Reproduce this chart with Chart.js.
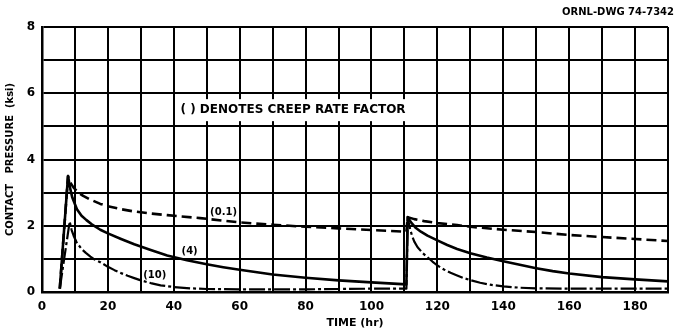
<!DOCTYPE html>
<html>
<head>
<meta charset="utf-8">
<script src="https://cdn.jsdelivr.net/npm/chart.js@4.4.1/dist/chart.umd.min.js"></script>
<style>
  html, body { margin: 0; padding: 0; background: #fff; }
  #wrap { width: 676px; height: 336px; position: relative; }
</style>
</head>
<body>
<div id="wrap"><canvas id="pressureChart"></canvas></div>
<script>
// contact pressure vs time, three creep rate factors
const timeSlow = [5.4, 7.9, 8.6, 9.6, 11, 12.5, 14.7, 17.7, 20, 24, 28, 33, 38, 48, 60, 70, 80, 90, 100, 110.6,
                  111, 113, 116, 120, 126, 130, 140, 150, 160, 170, 180, 190];
const pressSlow = [0.1, 3.5, 3.3, 3.15, 3.0, 2.9, 2.79, 2.66, 2.59, 2.5, 2.43, 2.37, 2.32, 2.23, 2.1, 2.03, 1.97, 1.92, 1.87, 1.82,
                   2.26, 2.2, 2.14, 2.08, 2.02, 1.97, 1.88, 1.81, 1.72, 1.66, 1.6, 1.54];

const timeMid = [5.4, 7.9, 8.5, 9.2, 10.6, 12, 13.5, 15, 17.7, 20, 24, 28, 33, 38, 44, 50, 55, 60, 70, 80, 90, 100, 110.6,
                 111, 112, 113.5, 115, 117, 120, 123, 126, 130, 135, 140, 145, 150, 155, 160, 170, 180, 190];
const pressMid = [0.1, 3.5, 3.15, 2.85, 2.5, 2.3, 2.17, 2.05, 1.88, 1.77, 1.6, 1.44, 1.27, 1.1, 0.96, 0.84, 0.75, 0.67, 0.53, 0.43, 0.35, 0.29, 0.23,
                  2.26, 2.1, 1.93, 1.82, 1.7, 1.56, 1.42, 1.3, 1.17, 1.04, 0.93, 0.82, 0.72, 0.63, 0.56, 0.45, 0.38, 0.32];

const timeFast = [5.4, 8.4, 9, 9.6, 10.5, 12, 13.3, 14.7, 16, 17.7, 20, 22, 24, 26, 28, 30, 33, 36, 40, 45, 50, 60, 80, 100, 110.6,
                  111, 111.6, 112.3, 113, 114, 115.5, 117, 118.5, 120, 122, 124, 126, 128, 130, 133, 136, 140, 145, 150, 160, 170, 180, 190];
const pressFast = [0.1, 2.13, 1.87, 1.7, 1.5, 1.3, 1.18, 1.07, 0.98, 0.9, 0.76, 0.66, 0.57, 0.49, 0.42, 0.35, 0.27, 0.2, 0.15, 0.11, 0.09, 0.08, 0.08, 0.1, 0.1,
                   2.26, 1.95, 1.7, 1.52, 1.35, 1.18, 1.05, 0.92, 0.8, 0.68, 0.58, 0.5, 0.42, 0.36, 0.28, 0.22, 0.17, 0.13, 0.11, 0.1, 0.1, 0.1, 0.1];

const xTicks = [0, 20, 40, 60, 80, 100, 120, 140, 160, 180];
const yTicks = [0, 2, 4, 6, 8];

function toPoints(xs, ys) {
    return xs.map((x, i) => ({ x: x, y: ys[i] }));
}

const LETTER = '"DejaVu Sans", sans-serif';

// captions and curve tags
const notesPlugin = {
    id: 'notes',
    afterDatasetsDraw(chart) {
        const ctx = chart.ctx;
        const xs = chart.scales.x, ys = chart.scales.y;
        ctx.save();
        ctx.fillStyle = '#000';
        ctx.textBaseline = 'middle';
        ctx.textAlign = 'center';

        // boxed note
        const nx = xs.getPixelForValue(76.2), ny = ys.getPixelForValue(5.49);
        ctx.font = 'bold 12px ' + LETTER;
        const w = ctx.measureText('( ) DENOTES CREEP RATE FACTOR').width;
        ctx.fillStyle = '#fff';
        ctx.fillRect(nx - w / 2 - 4, ny - 11, w + 8, 22);
        ctx.fillStyle = '#000';
        ctx.fillText('( ) DENOTES CREEP RATE FACTOR', nx, ny);

        ctx.font = 'bold 10px ' + LETTER;
        ctx.fillText('(0.1)', xs.getPixelForValue(55.1), ys.getPixelForValue(2.39));
        ctx.fillText('(4)', xs.getPixelForValue(44.8), ys.getPixelForValue(1.23));
        ctx.fillText('(10)', xs.getPixelForValue(34.2), ys.getPixelForValue(0.5));

        // drawing number, top right
        ctx.font = 'bold 10px ' + LETTER;
        ctx.textAlign = 'right';
        ctx.fillText('ORNL-DWG 74-7342', 674, 12);
        ctx.restore();
    }
};

new Chart(document.getElementById('pressureChart'), {
    type: 'line',
    data: {
        datasets: [
            {
                label: '(0.1)',
                data: toPoints(timeSlow, pressSlow),
                borderColor: '#000',
                borderWidth: 2.6,
                borderDash: [10, 5],
                borderJoinStyle: 'round',
                pointRadius: 0,
                tension: 0
            },
            {
                label: '(4)',
                data: toPoints(timeMid, pressMid),
                borderColor: '#000',
                borderWidth: 2.6,
                borderJoinStyle: 'round',
                pointRadius: 0,
                tension: 0
            },
            {
                label: '(10)',
                data: toPoints(timeFast, pressFast),
                borderColor: '#000',
                borderWidth: 2.2,
                borderDash: [16, 3, 3, 3],
                borderJoinStyle: 'round',
                pointRadius: 0,
                tension: 0
            }
        ]
    },
    options: {
        responsive: true,
        maintainAspectRatio: false,
        animation: false,
        layout: { padding: { top: 27, right: 6, left: 0, bottom: 0 } },
        plugins: {
            legend: { display: false },
            tooltip: { enabled: false }
        },
        scales: {
            x: {
                type: 'linear',
                min: 0,
                max: 190,
                afterFit: (scale) => { scale.height = 44; },
                grid: { color: '#000', lineWidth: 2, drawTicks: false },
                border: { color: '#000', width: 2.5 },
                ticks: {
                    stepSize: 10,
                    autoSkip: false,
                    maxRotation: 0,
                    padding: 8,
                    color: '#000',
                    font: { family: LETTER, size: 12, weight: 'bold' },
                    callback: (v) => xTicks.includes(v) ? String(v) : ''
                },
                title: {
                    display: true,
                    text: 'TIME (hr)',
                    color: '#000',
                    padding: { top: 2, bottom: 6 },
                    font: { family: LETTER, size: 11, weight: 'bold' }
                }
            },
            y: {
                min: 0,
                max: 8,
                afterFit: (scale) => { scale.width = 42; },
                grid: { color: '#000', lineWidth: 2, drawTicks: false },
                border: { color: '#000', width: 2.5 },
                ticks: {
                    stepSize: 1,
                    autoSkip: false,
                    padding: 7,
                    color: '#000',
                    font: { family: LETTER, size: 12, weight: 'bold' },
                    callback: (v) => yTicks.includes(v) ? String(v) : ''
                },
                title: {
                    display: true,
                    text: 'CONTACT   PRESSURE  (ksi)',
                    color: '#000',
                    padding: { top: 4, bottom: 0 },
                    font: { family: LETTER, size: 10, weight: 'bold' }
                }
            }
        }
    },
    plugins: [notesPlugin]
});
</script>
</body>
</html>
